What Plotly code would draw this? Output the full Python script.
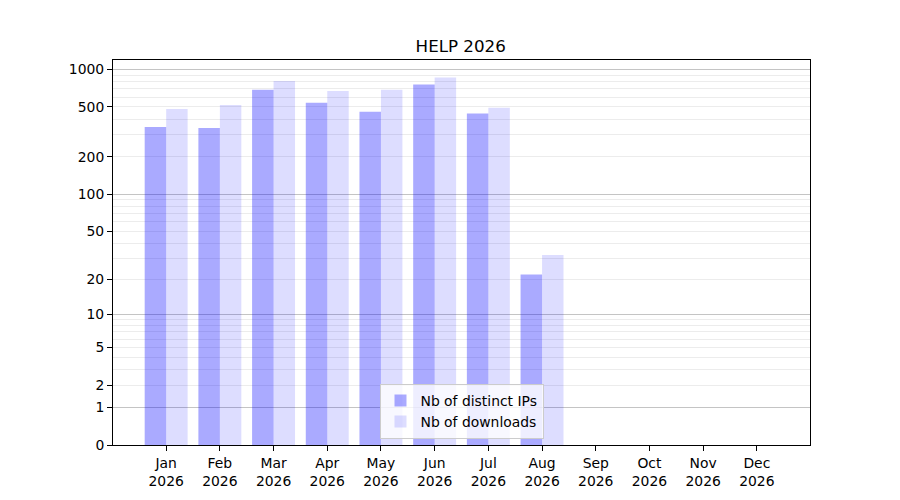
import plotly.graph_objects as go

# monthly counts
months = ["Jan", "Feb", "Mar", "Apr", "May", "Jun", "Jul", "Aug", "Sep", "Oct", "Nov", "Dec"]
year = "2026"
distinct_ips = [346, 340, 688, 541, 457, 755, 443, 22, 0, 0, 0, 0]
downloads = [482, 519, 807, 672, 688, 859, 494, 32, 0, 0, 0, 0]

tick_values = [0, 1, 2, 5, 10, 20, 50, 100, 200, 500, 1000]
major_grid = [1, 10, 100, 1000]
minor_grid = [2, 3, 4, 5, 6, 7, 8, 9,
              20, 30, 40, 50, 60, 70, 80, 90,
              200, 300, 400, 500, 600, 700, 800, 900]

labels = [f"{m}<br>{year}" for m in months]


def shift(vals):
    # axis is log10(1 + value), so 0 sits on the bottom edge
    return [v + 1 for v in vals]


fig = go.Figure()
fig.add_trace(go.Bar(x=labels, y=shift(distinct_ips), name="Nb of distinct IPs",
                     marker=dict(color="rgba(0,0,255,0.333)", line=dict(width=0))))
fig.add_trace(go.Bar(x=labels, y=shift(downloads), name="Nb of downloads",
                     marker=dict(color="rgba(0,0,255,0.135)", line=dict(width=0))))
# invisible trace carrying the decade grid lines
fig.add_trace(go.Scatter(x=[labels[0]], y=[1], yaxis="y2", mode="markers",
                         marker=dict(opacity=0), showlegend=False, hoverinfo="skip"))

y_range = [0, 3.075]

fig.update_layout(
    width=900, height=500,
    paper_bgcolor="white", plot_bgcolor="white",
    font=dict(family="DejaVu Sans", size=13.9, color="black"),
    title=dict(text="HELP 2026", x=0.503, xanchor="center", y=0.924, yanchor="middle",
               font=dict(size=16.7)),
    margin=dict(l=105, r=98, t=52, b=63),
    barmode="group", bargap=0.2, bargroupgap=0,
    xaxis=dict(range=[-0.99, 11.99], showline=True, mirror=True, linecolor="black",
               linewidth=1, ticks="outside", ticklen=5, tickcolor="black",
               showgrid=False, zeroline=False),
    yaxis=dict(type="log", range=y_range, showline=True, mirror=True, linecolor="black",
               linewidth=1, ticks="outside", ticklen=5, tickcolor="black",
               tickmode="array", tickvals=shift(tick_values),
               ticktext=[str(t) for t in tick_values],
               showgrid=False, zeroline=False,
               minor=dict(tickmode="array", tickvals=shift(minor_grid), showgrid=True,
                          gridcolor="#ececec", gridwidth=1, ticks="")),
    yaxis2=dict(type="log", range=y_range, overlaying="y", side="left",
                tickmode="array", tickvals=shift(major_grid), showticklabels=False,
                showgrid=True, gridcolor="#c4c4c4", gridwidth=1, ticks="",
                showline=False, zeroline=False),
    legend=dict(x=0.5, xanchor="center", y=0.016, yanchor="bottom",
                bgcolor="rgba(255,255,255,0.8)", bordercolor="#cccccc", borderwidth=1,
                font=dict(size=13.9)),
    showlegend=True,
)

fig.write_html("out.html")
